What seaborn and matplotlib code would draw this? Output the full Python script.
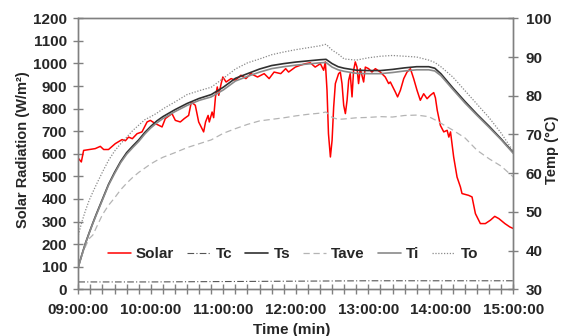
import numpy as np
import pandas as pd
import matplotlib
matplotlib.use("Agg")
import matplotlib.pyplot as plt
from matplotlib.ticker import FuncFormatter, MultipleLocator
from matplotlib.lines import Line2D
import seaborn as sns

# ── Data (minutes after 09:00) ───────────────────────────────────────────────
SOLAR_TIME = [0.2, 2.5, 4.4, 8, 14, 18.2, 21, 25, 30.6, 36.2, 39, 41.6, 44.7,
              48.6, 52.7, 56.9, 59.6, 63.7, 69.3, 72, 77.5, 80.3, 84.4, 87.7,
              91.3, 93.5, 96.8, 99.6, 103.7, 105.3, 107.4, 108.4, 110.7, 112,
              113.5, 115, 116.2, 118.2, 119.6, 122.3, 126.4, 130, 134.6, 138.7,
              142.8, 148.3, 153.8, 157.9, 162, 167.5, 171.6, 174, 179.6, 183.7,
              187.9, 192, 196, 200.3, 203, 204.4, 205.8, 207, 208.6, 210,
              211.3, 212.7, 215.4, 216.8, 218.2, 219.6, 221, 222.4, 223.7, 225,
              226.5, 227.8, 229.2, 230.6, 231.9, 233.3, 236.1, 237.5, 240.2,
              243, 245.8, 249.9, 254, 256.8, 258.2, 262.3, 264.2, 266.5, 269.3,
              272, 274.8, 277.5, 280.3, 283, 285.8, 288.6, 291.3, 294.1, 295.5,
              297, 299.6, 302.4, 305.2, 306.6, 308, 310.6, 313.4, 316.2, 317.5,
              323, 325.8, 328.6, 332.7, 336.8, 341, 344.6, 348, 353, 357.1, 360]
SOLAR = [579, 564, 615, 618, 623, 633, 619, 619, 645, 663, 658, 674, 667,
         689, 697, 741, 748, 734, 719, 756, 778, 748, 741, 756,
         770, 829, 815, 741, 697, 741, 770, 741, 785, 760,
         852, 896, 859, 911, 940, 918, 933, 926, 948, 933,
         955, 940, 955, 933, 962, 955, 977, 962, 984, 992,
         999, 1003, 984, 999, 970, 1007, 881, 689, 586, 660,
         807, 911, 955, 962, 911, 815, 778, 837, 925, 955,
         852, 970, 1007, 984, 911, 977, 918, 984, 977,
         962, 977, 962, 940, 911, 918, 874, 852, 881, 933,
         962, 977, 933, 881, 837, 866, 844, 859, 871, 848,
         793, 726, 697, 704, 674, 697, 586, 497, 453, 424,
         416, 409, 335, 291, 291, 306, 323, 313, 291, 276, 269]

T_TIME = [0, 3, 6, 9, 12, 15, 20, 25, 30, 35, 40, 45, 50, 55, 60, 65, 70, 80,
          90, 100, 110, 120, 130, 140, 150, 160, 170, 180, 190, 200, 205, 210,
          215, 220, 230, 240, 250, 260, 270, 280, 290, 295, 300, 310, 320, 330,
          340, 350, 360]
TS = [35.8, 39.0, 42.0, 44.6, 47.1, 49.5, 53.3, 57.1, 60.2, 63.0, 65.3, 67.0,
      68.6, 70.5, 72.1, 73.5, 74.6, 76.4, 78.0, 79.3, 80.3, 82.2, 84.5, 85.7,
      86.9, 87.8, 88.3, 88.7, 89.0, 89.3, 89.4, 88.3, 87.5, 87.1, 86.6, 86.5,
      86.5, 86.8, 87.2, 87.5, 87.5, 87.1, 85.7, 82.0, 78.5, 75.2, 72.1, 68.8,
      65.3]
TI = [35.8, 38.9, 41.9, 44.5, 47.0, 49.3, 53.1, 56.9, 59.9, 62.7, 64.9, 66.6,
      68.2, 70.1, 71.7, 73.0, 74.1, 75.9, 77.5, 78.8, 79.7, 81.5, 83.8, 85.0,
      86.1, 87.0, 87.5, 87.9, 88.2, 88.5, 88.6, 87.4, 86.7, 86.3, 85.8, 85.7,
      85.7, 86.0, 86.4, 86.7, 86.7, 86.4, 85.2, 81.6, 78.1, 74.9, 71.8, 68.6,
      65.1]
TO = [44.0, 47.5, 50.4, 53.0, 55.1, 57.1, 60.3, 63.3, 65.7, 67.6, 69.3, 71.0,
      72.4, 73.8, 74.6, 75.5, 76.6, 78.4, 80.3, 81.3, 82.2, 84.5, 86.9, 88.5,
      89.5, 90.6, 91.3, 91.9, 92.4, 92.9, 93.3, 91.8, 90.8, 89.5, 89.2, 89.8,
      90.2, 90.4, 90.2, 90.0, 89.2, 88.6, 87.5, 84.8, 81.3, 77.8, 74.3, 70.3,
      65.6]
TAVE = [35.8, 38.8, 41.1, 43.1, 44.0, 46.0, 49.3, 51.7, 53.6, 55.7, 57.4, 58.9,
        60.2, 61.3, 62.4, 63.3, 64.1, 65.3, 66.6, 67.6, 68.6, 70.3, 71.5, 72.6,
        73.5, 73.9, 74.3, 74.8, 75.2, 75.5, 75.8, 74.4, 73.9, 74.0, 74.3, 74.4,
        74.6, 74.5, 74.9, 75.0, 74.6, 73.8, 72.9, 71.1, 69.1, 65.9, 63.7, 61.8,
        59.0]
TC_TIME = [0, 60, 120, 180, 240, 300, 360]
TC = [31.9, 31.9, 32.0, 32.1, 32.2, 32.2, 32.2]

HOUR_LABELS = ["09:00:00", "10:00:00", "11:00:00", "12:00:00",
               "13:00:00", "14:00:00", "15:00:00"]

# ── Style ────────────────────────────────────────────────────────────────────
sns.set_style("ticks")
plt.rcParams["font.family"] = ["Liberation Sans", "DejaVu Sans"]
plt.rcParams["font.weight"] = "bold"
FS = 11
FRAME = "#808080"

fig = plt.figure(figsize=(5.65, 3.36), dpi=100)
ax = fig.add_axes([0.1386, 0.139, 0.770, 0.8065])
ax2 = ax.twinx()

sns.lineplot(x=SOLAR_TIME, y=SOLAR, ax=ax, color="#ff0000", lw=1.1,
             sort=False, legend=False)

temps = [
    (TC_TIME, TC, "#555555", (0, (6, 2, 1, 2)), 0.8),
    (T_TIME, TS, "#303030", "-", 1.2),
    (T_TIME, TAVE, "#b4b4b4", (0, (5, 3)), 0.9),
    (T_TIME, TI, "#8a8a8a", "-", 1.2),
    (T_TIME, TO, "#8a8a8a", (0, (1, 1.3)), 0.9),
]
for tx, ty, c, ls, lw in temps:
    sns.lineplot(x=tx, y=ty, ax=ax2, color=c, linestyle=ls, lw=lw,
                 sort=False, legend=False)

# ── Axes ─────────────────────────────────────────────────────────────────────
ax.set_xlim(0, 360)
ax.set_ylim(0, 1200)
ax2.set_ylim(30, 100)
ax.xaxis.set_major_locator(MultipleLocator(60))
ax.xaxis.set_minor_locator(MultipleLocator(10))
ax.xaxis.set_major_formatter(
    FuncFormatter(lambda v, p: HOUR_LABELS[int(round(v / 60))]
                  if 0 <= round(v / 60) < len(HOUR_LABELS) else ""))
ax.yaxis.set_major_locator(MultipleLocator(100))
ax2.yaxis.set_major_locator(MultipleLocator(10))

for a in (ax, ax2):
    for s in a.spines.values():
        s.set_visible(True)
        s.set_color(FRAME)
        s.set_linewidth(1.0)
    a.tick_params(which="both", direction="inout", color=FRAME, width=1.0,
                  labelsize=FS)
ax.tick_params(axis="x", which="major", length=7, pad=6.5)
ax.tick_params(axis="x", which="minor", length=7)
ax.tick_params(axis="y", length=7, pad=4.5)
ax2.tick_params(axis="y", length=7, pad=5.5)
for lab in ax.get_xticklabels() + ax.get_yticklabels() + ax2.get_yticklabels():
    lab.set_fontweight("bold")

ax.set_xlabel("Time (min)", fontsize=FS, fontweight="bold")
ax.xaxis.set_label_coords(0.49, -0.125)
ax.set_ylabel("Solar Radiation (W/m²)", fontsize=10.5, fontweight="bold")
ax.yaxis.set_label_coords(-0.112, 0.514)
ax2.set_ylabel("Temp (°C)", fontsize=10.5, fontweight="bold")
ax2.yaxis.set_label_coords(1.072, 0.514)

# ── Legend ───────────────────────────────────────────────────────────────────
names = ["Solar", "Tc", "Ts", "Tave", "Ti", "To"]
styles = [("#ff0000", "-", 1.1)] + [(c, ls, lw) for _, _, c, ls, lw in temps]
handles = [Line2D([], [], color=c, linestyle=ls, lw=lw) for c, ls, lw in styles]
ax2.legend(handles, names, loc="center", bbox_to_anchor=(0.4935, 0.13),
           ncol=6, frameon=False, fontsize=FS, handlelength=1.5,
           handletextpad=0.35, columnspacing=0.85, borderpad=0,
           prop={"weight": "bold", "size": FS})

fig.savefig("out.png", dpi=100)
